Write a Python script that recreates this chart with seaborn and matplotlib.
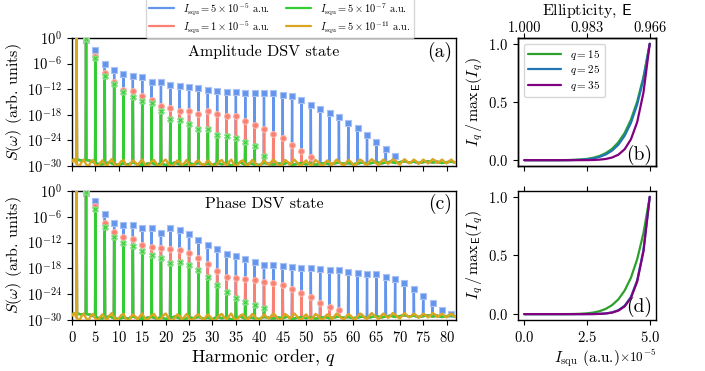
import numpy as np
import pandas as pd
import matplotlib
matplotlib.use("Agg")
import matplotlib.pyplot as plt
import seaborn as sns
from matplotlib.lines import Line2D
from matplotlib.ticker import NullLocator

# ---------------------------------------------------------------------------
# Data
# ---------------------------------------------------------------------------
# odd harmonic orders q = 1, 3, ..., 81
harmonics = list(range(1, 82, 2))

# log10 of the harmonic peak heights (None: no peak above the noise floor)
amp_blue = [0.0, -0.4, -2.8, -6.0, -7.6, -8.4, -9.0, -9.2, -10.2, -10.4,
            -11.0, -11.2, -11.6, -11.8, -12.2, -12.4, -12.6, -12.7, -12.8, -12.9,
            -13.0, -13.0, -13.3, -13.6, -14.6, -15.6, -16.6, -17.6, -18.6, -20.0,
            -21.2, -22.8, -24.4, -26.0, -27.6, None, None, None, None, None,
            None]
amp_red = [0.0, -0.5, -4.2, -8.1, -10.2, -12.2, -12.5, -13.6, -14.6, -15.9,
           -16.4, -17.0, -17.0, -17.8, -17.2, -17.8, -18.4, -18.3, -19.5, -20.4,
           -21.4, -22.6, -23.5, -25.0, -26.5, -28.0, None, None, None, None,
           None, None, None, None, None, None, None, None, None, None,
           None]
amp_green = [0.0, -0.2, -4.8, -9.0, -10.8, -12.6, -13.8, -14.8, -15.2, -17.2,
             -19.0, -19.2, -20.2, -21.4, -21.4, -22.8, -23.0, -23.4, -24.4, -25.4,
             -27.6, None, None, None, None, None, None, None, None, None,
             None, None, None, None, None, None, None, None, None, None,
             None]
amp_gold = [0.0] + [None] * 40

phase_blue = [0.0, -0.4, -2.3, -5.3, -7.4, -8.0, -8.0, -8.6, -8.6, -9.7,
              -8.7, -9.1, -10.1, -11.3, -12.6, -13.6, -14.6, -15.2, -15.9, -16.5,
              -17.1, -17.3, -17.5, -17.6, -17.8, -18.0, -18.2, -18.3, -18.4, -18.9,
              -19.0, -19.2, -19.4, -20.0, -20.5, -21.5, -22.7, -24.4, -26.1, -27.7,
              -28.6]
phase_red = [0.0, -0.5, -3.5, -7.4, -9.5, -10.7, -11.1, -12.5, -13.1, -13.3,
             -13.6, -13.7, -14.4, -15.7, -17.0, -18.6, -20.0, -20.3, -20.5, -20.8,
             -21.1, -21.5, -21.9, -22.7, -23.8, -24.6, -26.1, -26.9, -27.7, None,
             None, None, None, None, None, None, None, None, None, None,
             None]
phase_green = [0.0, -0.2, -4.3, -8.4, -10.8, -12.2, -12.8, -13.9, -14.9, -15.7,
               -16.7, -16.5, -17.2, -18.4, -20.0, -21.9, -23.4, -24.8, -25.8, -26.5,
               -27.3, None, None, None, None, None, None, None, None, None,
               None, None, None, None, None, None, None, None, None, None,
               None]
phase_gold = [0.0] + [None] * 40

# log10 of the numerical noise floor, sampled every harmonic (q = 0..82)
floor_base = [
    -28.6, -28.5, -28.7, -28.6, -28.8, -29.3, -29.7, -29.5, -29.1, -29.6,
    -29.8, -29.4, -29.7, -29.2, -29.6, -29.9, -29.5, -29.3, -29.7, -29.4,
    -29.8, -29.5, -29.2, -29.6, -29.9, -29.4, -29.6, -29.3, -29.7, -29.5,
    -29.8, -29.3, -29.6, -29.4, -29.9, -29.5, -29.2, -29.7, -29.4, -29.6,
    -29.8, -29.3, -29.5, -29.7, -29.4, -29.6, -29.2, -29.8, -29.5, -29.3,
    -29.6, -29.4, -29.7, -29.5, -29.3, -29.6, -29.4, -29.2, -29.5, -29.3,
    -29.6, -29.4, -29.2, -29.5, -29.3, -29.1, -29.4, -29.2, -29.0, -29.3,
    -29.1, -28.9, -29.2, -29.0, -29.3, -29.1, -28.9, -29.2, -29.0, -29.3,
    -29.1, -29.0, -29.2]

# log10 of the noise floor of the weakest field, every half harmonic (q = 0..82)
floor_gold = [
    -29.0, -28.4, -29.5, -30.3, -29.2, -28.5, -29.6, -30.1, -29.1, -28.6,
    -29.7, -30.4, -29.3, -28.7, -29.5, -30.0, -29.0, -28.4, -29.4, -30.2,
    -29.6, -28.9, -28.6, -29.7, -30.5, -29.4, -28.7, -29.2, -29.9, -29.1,
    -28.5, -29.5, -30.2, -29.6, -28.9, -28.6, -29.4, -30.1, -29.7, -28.9,
    -28.5, -29.3, -30.0, -30.3, -29.4, -28.7, -29.1, -29.8, -29.3, -28.6,
    -29.6, -30.2, -29.7, -29.0, -28.7, -29.4, -30.0, -29.4, -28.7, -29.2,
    -29.9, -30.4, -29.5, -28.9, -28.6, -29.4, -29.8, -29.1, -28.5, -29.5,
    -30.1, -29.6, -28.9, -28.7, -29.5, -30.0, -29.3, -28.6, -29.1, -29.9,
    -30.2, -29.4, -28.7, -29.2, -29.7, -29.1, -28.5, -29.0, -29.8, -30.1,
    -29.3, -28.6, -29.0, -29.7, -29.2, -28.5, -29.1, -29.8, -30.0, -29.2,
    -28.7, -29.4, -29.9, -29.4, -28.6, -29.0, -29.7, -30.1, -29.3, -28.7,
    -29.1, -29.8, -29.2, -28.5, -29.0, -29.5, -30.0, -29.3, -28.6, -29.0,
    -29.6, -29.9, -29.1, -28.5, -28.8, -29.5, -29.8, -29.0, -28.4, -28.9,
    -29.4, -29.8, -29.0, -28.5, -29.0, -29.5, -29.1, -28.4, -28.7, -29.3,
    -29.7, -29.0, -28.4, -28.9, -29.4, -29.0, -28.5, -28.9, -29.5, -29.1,
    -28.5, -28.9, -29.4, -29.0, -28.4, -28.7, -29.3, -29.0, -28.5, -29.0,
    -29.4, -28.9, -28.5, -29.0, -29.3]

series_labels = [r"$I_{\rm squ} = 5\times10^{-5}$ a.u.",
                 r"$I_{\rm squ} = 1\times10^{-5}$ a.u.",
                 r"$I_{\rm squ} = 5\times10^{-7}$ a.u.",
                 r"$I_{\rm squ} = 5\times10^{-11}$ a.u."]
series_colors = ["#6495ED", "#FA8072", "#32CD32", "#DAA520"]
marker_edges = ["#a9c1f3", "#fbb6ad", "#8fe08f", None]
marker_shapes = ["s", "o", "X", None]

# normalised harmonic yield vs squeezing intensity (units of 1e-5 a.u.)
isqu = [0.0, 0.25, 0.5, 0.75, 1.0, 1.25, 1.5, 1.75, 2.0, 2.25, 2.5,
        2.75, 3.0, 3.25, 3.5, 3.75, 4.0, 4.25, 4.5, 4.75, 5.0]
amp_q15 = [0.0, 0.0, 0.0, 0.0, 0.0, 0.0001, 0.0004, 0.0011, 0.0026, 0.0056, 0.011,
           0.021, 0.036, 0.061, 0.098, 0.154, 0.234, 0.348, 0.504, 0.716, 1.0]
amp_q25 = [0.0, 0.0, 0.0, 0.0, 0.0, 0.0, 0.0002, 0.0006, 0.0016, 0.0037, 0.0078,
           0.015, 0.028, 0.049, 0.082, 0.133, 0.210, 0.320, 0.478, 0.698, 1.0]
amp_q35 = [0.0, 0.0, 0.0, 0.0, 0.0, 0.0, 0.0, 0.0, 0.0001, 0.0002, 0.0006,
           0.0018, 0.0045, 0.0104, 0.0228, 0.047, 0.094, 0.179, 0.327, 0.581, 1.0]
phase_q15 = [0.0, 0.0, 0.0, 0.0, 0.0, 0.0, 0.0002, 0.0005, 0.0014, 0.0032, 0.0068,
             0.0134, 0.025, 0.045, 0.077, 0.126, 0.201, 0.310, 0.468, 0.691, 1.0]
phase_q25 = [0.0, 0.0, 0.0, 0.0, 0.0, 0.0, 0.0, 0.0, 0.0, 0.0001, 0.0003,
             0.0009, 0.0024, 0.0062, 0.0149, 0.0336, 0.0719, 0.147, 0.289, 0.546, 1.0]
phase_q35 = [0.0, 0.0, 0.0, 0.0, 0.0, 0.0, 0.0, 0.0, 0.0, 0.0, 0.0002,
             0.0007, 0.0020, 0.0052, 0.0129, 0.0299, 0.0657, 0.138, 0.277, 0.535, 1.0]
q_labels = [r"$q = 15$", r"$q = 25$", r"$q = 35$"]
q_colors = ["#2ca02c", "#1f77b4", "#800080"]
ellipticity_ticks = [0.0, 2.5e-5, 5.0e-5]
ellipticity_labels = ["1.000", "0.983", "0.966"]

# ---------------------------------------------------------------------------
# Style
# ---------------------------------------------------------------------------
sns.set_style("ticks")
plt.rcParams.update({
    "font.family": ["cmr10"],
    "mathtext.fontset": "cm",
    "axes.formatter.use_mathtext": True,
    "axes.unicode_minus": False,
    "axes.edgecolor": "black",
    "axes.labelcolor": "black",
    "text.color": "black",
    "xtick.color": "black",
    "ytick.color": "black",
    "axes.linewidth": 1.0,
    "xtick.labelsize": 10.5,
    "ytick.labelsize": 10.5,
})


def spectrum(grid, floor, peaks):
    """Line through the noise floor with a narrow spike at every odd harmonic."""
    xs, ys = [], []
    for x, f in zip(grid, floor):
        q = int(round(x))
        if abs(x - q) < 1e-9 and q % 2 == 1 and peaks[(q - 1) // 2] is not None:
            p = peaks[(q - 1) // 2]
            xs += [q - 0.07, q, q + 0.07]
            ys += [10.0 ** f, 10.0 ** p, 10.0 ** f]
        else:
            xs.append(x)
            ys.append(10.0 ** f)
    return pd.DataFrame({"q": xs, "S": ys})


def draw_spectra(ax, peak_sets):
    grids = [np.arange(83.0), np.arange(83.0), np.arange(83.0), np.arange(165) * 0.5]
    floors = [floor_base, floor_base, floor_base, floor_gold]
    for i, peaks in enumerate(peak_sets):
        df = spectrum(grids[i], floors[i], peaks)
        sns.lineplot(data=df, x="q", y="S", ax=ax, color=series_colors[i], lw=1.7,
                     estimator=None, sort=False, legend=False, zorder=2 + 2 * i)
        if marker_shapes[i] is not None:
            mq = [q for q, p in zip(harmonics, peaks) if p is not None and q >= 3]
            mv = [10.0 ** p for q, p in zip(harmonics, peaks) if p is not None and q >= 3]
            sns.scatterplot(x=mq, y=mv, ax=ax, marker=marker_shapes[i], s=18,
                            color=series_colors[i], edgecolor=marker_edges[i],
                            linewidth=0.8, legend=False, zorder=3 + 2 * i)
    ax.set_yscale("log")
    ax.set_ylim(1e-30, 1.0)
    ax.set_xlim(0, 82)
    ax.set_yticks([1e-30, 1e-24, 1e-18, 1e-12, 1e-6, 1e0])
    ax.yaxis.set_minor_locator(NullLocator())
    ax.set_xticks(range(0, 81, 5))
    ax.set_ylabel(r"$S(\omega)$ (arb. units)", fontsize=11.5, labelpad=2)
    ax.set_xlabel("")


def draw_yield(ax, curves):
    for vals, lab, col in zip(curves, q_labels, q_colors):
        sns.lineplot(x=[v * 1e-5 for v in isqu], y=vals, ax=ax, color=col, lw=1.6,
                     label=lab, estimator=None, sort=False, legend=False)
    ax.set_xticks(ellipticity_ticks)
    ax.set_yticks([0.0, 0.5, 1.0])
    ax.set_xlim(-0.25e-5, 5.25e-5)
    ax.set_ylim(-0.05, 1.05)
    ax.set_ylabel(r"$I_q\,/\,\mathrm{max}_{\mathsf{E}}(I_q)$", fontsize=11.5, labelpad=2)
    ax.set_xlabel("")


# ---------------------------------------------------------------------------
# Figure
# ---------------------------------------------------------------------------
fig = plt.figure(figsize=(7.05, 3.71), dpi=100)
ax_a = fig.add_axes([0.1021, 0.5526, 0.5447, 0.3450])
ax_c = fig.add_axes([0.1021, 0.1375, 0.5447, 0.3477])
ax_b = fig.add_axes([0.7348, 0.5526, 0.1957, 0.3450])
ax_d = fig.add_axes([0.7348, 0.1375, 0.1957, 0.3477])

draw_spectra(ax_a, [amp_blue, amp_red, amp_green, amp_gold])
draw_spectra(ax_c, [phase_blue, phase_red, phase_green, phase_gold])
ax_a.tick_params(labelbottom=False)
ax_c.set_xlabel(r"Harmonic order, $q$", fontsize=13, labelpad=2)

ax_a.text(0.5, 0.89, "Amplitude DSV state", transform=ax_a.transAxes,
          ha="center", va="center", fontsize=11.5)
ax_a.text(0.99, 0.89, "(a)", transform=ax_a.transAxes, ha="right", va="center", fontsize=14)
ax_c.text(0.5, 0.9, "Phase DSV state", transform=ax_c.transAxes,
          ha="center", va="center", fontsize=11.5)
ax_c.text(0.99, 0.9, "(c)", transform=ax_c.transAxes, ha="right", va="center", fontsize=14)

draw_yield(ax_b, [amp_q15, amp_q25, amp_q35])
draw_yield(ax_d, [phase_q15, phase_q25, phase_q35])
ax_b.tick_params(labelbottom=False)
ax_b.legend(loc="upper left", fontsize=8, handlelength=3.0, borderpad=0.4,
            labelspacing=0.12, handletextpad=0.8)
ax_b.text(0.97, 0.09, "(b)", transform=ax_b.transAxes, ha="right", va="center", fontsize=14)
ax_d.text(0.97, 0.1, "(d)", transform=ax_d.transAxes, ha="right", va="center", fontsize=14)
ax_d.tick_params(top=True, labeltop=False)
ax_d.set_xlabel(r"$I_{\rm squ}$ (a.u.)", fontsize=11, labelpad=3)
ax_d.xaxis.get_offset_text().set_fontsize(9.5)

ax_top = ax_b.twiny()
ax_top.set_xlim(ax_b.get_xlim())
ax_top.set_xticks(ellipticity_ticks)
ax_top.set_xticklabels(ellipticity_labels)
ax_top.tick_params(axis="x", pad=-1.0, labelsize=10.5)
ax_top.set_xlabel(r"Ellipticity, $\mathsf{E}$", fontsize=11.5, labelpad=4)

handles = [Line2D([], [], color=c, lw=1.6) for c in series_colors]
fig.legend(handles, series_labels, loc="center", bbox_to_anchor=(0.397, 0.952),
           ncol=2, fontsize=7.5, handlelength=2.4, columnspacing=1.6,
           borderpad=0.35, labelspacing=0.2)

fig.savefig("out.png", dpi=100)
